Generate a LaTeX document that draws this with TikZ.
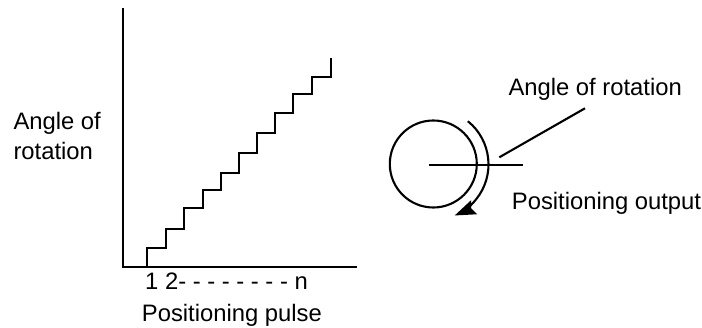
\documentclass[tikz,border=0pt]{standalone}
\usepackage{fontspec}
\setmainfont{Liberation Sans}
\usetikzlibrary{arrows.meta,calc}
\begin{document}
\begin{tikzpicture}[x=1pt,y=-1pt,
  ln/.style={line width=2.1pt},
  lbl/.style={inner sep=0pt,anchor=base west,font=\fontsize{23.8pt}{30pt}\selectfont}]
\useasboundingbox (0,0) rectangle (702,328);
% axes
\coordinate (top) at (122.7,8);
\coordinate (orig) at (122.7,267);
\coordinate (xend) at (357,267);
\draw[ln] (top) -- (orig) -- (xend);
% staircase
\coordinate (s0) at (147.3,267);
\draw[ln,line join=miter] (s0) |- (166,248.3) |- (184,229.3) |- (202.7,208.3) |- (221,190.3)
  |- (239.3,172.7) |- (256.7,152.7) |- (275,133) |- (293.3,112.7) |- (312,94.3)
  |- (330.7,76.7) -- (330.7,58.3);
% labels of the graph
\node[lbl] (yl1) at (13.3,130) {Angle of};
\node[lbl] (yl2) at (13.3,160) {rotation};
\node[lbl] (xt) at (145,290) {1 2- - - - - - - - n};
\node[lbl] (xl) at (141.7,321.7) {Positioning pulse};
% disc
\coordinate (c) at (433.3,164);
\draw[ln] (c) circle[radius=43.5];
\coordinate (h0) at (429.3,165);
\coordinate (h1) at (522.7,165);
\draw[ln] (h0) -- (h1);
\coordinate (a0) at ($(c)+(-51:55)$);
\draw[ln,-{Stealth[length=21pt,width=15pt,inset=3pt]}] (a0) arc[start angle=-51,end angle=67,radius=55.5];
% leader
\coordinate (l0) at (499.3,157.3);
\coordinate (l1) at (585,108.3);
\draw[ln] (l0) -- (l1);
\node[lbl] (ar) at (508.3,96) {Angle of rotation};
\node[lbl] (po) at (511.7,210) {Positioning output};
\end{tikzpicture}
\end{document}
